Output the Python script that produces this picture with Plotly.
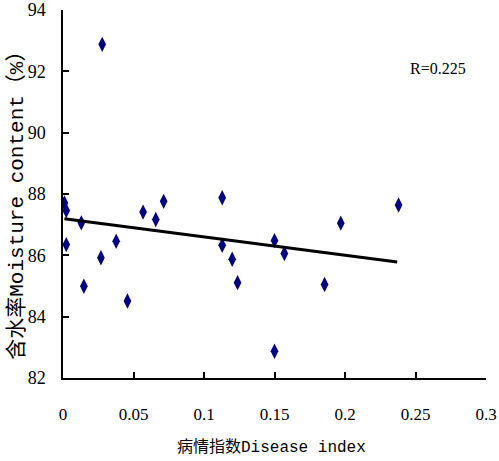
import plotly.graph_objects as go

# Disease index (x) and moisture content (y)
disease_index = [0.001, 0.0023, 0.0023, 0.013, 0.0148, 0.0269, 0.0278, 0.0377,
                 0.0457, 0.0568, 0.0658, 0.0714, 0.1129, 0.1129, 0.120, 0.1238,
                 0.150, 0.150, 0.157, 0.1855, 0.197, 0.238]
moisture = [87.71, 87.46, 86.35, 87.06, 84.99, 85.92, 92.88, 86.46,
            84.51, 87.41, 87.17, 87.76, 87.88, 86.33, 85.87, 85.11,
            86.48, 82.87, 86.06, 85.05, 87.05, 87.64]

# Linear trend line endpoints
fit_x = [0.001, 0.237]
fit_y = [87.19, 85.78]

x_ticks = [0, 0.05, 0.1, 0.15, 0.2, 0.25, 0.3]
y_ticks = [82, 84, 86, 88, 90, 92, 94]

label_font = "'Liberation Serif', 'Noto Sans CJK SC', serif"
title_font = "'Liberation Mono', 'Noto Sans CJK SC', monospace"

fig = go.Figure()
fig.add_trace(go.Scatter(
    x=disease_index, y=moisture, mode="markers",
    marker=dict(symbol="diamond-tall", size=11, color="#000080",
                line=dict(width=0)),
    showlegend=False,
))
fig.add_trace(go.Scatter(
    x=fit_x, y=fit_y, mode="lines",
    line=dict(color="black", width=3),
    showlegend=False,
))

fig.add_annotation(
    x=0.886, y=0.842, xref="paper", yref="paper",
    xanchor="center", yanchor="middle",
    text="R=0.225", showarrow=False,
    font=dict(family=label_font, size=16, color="black"),
)
fig.add_annotation(
    x=0.494, y=-0.19, xref="paper", yref="paper",
    xanchor="center", yanchor="middle",
    text="病情指数Disease index", showarrow=False,
    font=dict(family=title_font, size=16, color="black"),
)
fig.add_annotation(
    x=-0.109, y=0.484, xref="paper", yref="paper",
    xanchor="center", yanchor="middle",
    text="含水率Moisture content（%）", showarrow=False, textangle=-90,
    font=dict(family=title_font, size=21, color="black"),
)

fig.update_layout(
    width=499, height=461,
    margin=dict(l=63, r=13, t=10, b=83),
    paper_bgcolor="white", plot_bgcolor="white",
    xaxis=dict(
        range=[0, 0.3], tickvals=x_ticks,
        ticktext=[str(v) for v in x_ticks],
        showline=True, linecolor="black", linewidth=1.5,
        ticks="inside", ticklen=6, tickcolor="black", tickwidth=1.5,
        showgrid=False, zeroline=False, automargin=False,
        tickfont=dict(family=label_font, size=17, color="black"),
        ticklabelstandoff=20,
    ),
    yaxis=dict(
        range=[82, 94], tickvals=y_ticks,
        showline=True, linecolor="black", linewidth=1.5,
        ticks="inside", ticklen=6, tickcolor="black", tickwidth=1.5,
        showgrid=False, zeroline=False, automargin=False,
        tickfont=dict(family=label_font, size=18, color="black"),
        ticklabelstandoff=12,
    ),
)

fig.write_html("out.html", config={"displayModeBar": False},
               post_script="document.body.style.margin='0';document.body.style.overflow='hidden';")
